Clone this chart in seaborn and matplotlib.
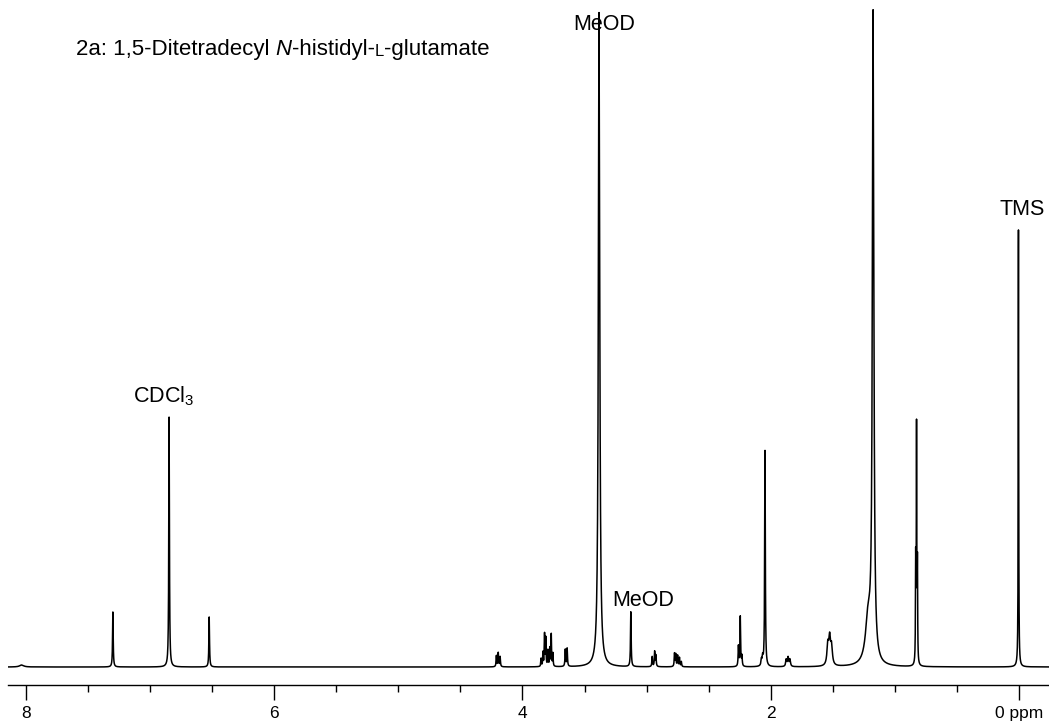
#%% 1H NMR spectrum of 2a
import numpy as np
import pandas as pd
import matplotlib
matplotlib.use("Agg")
import matplotlib.pyplot as plt
import seaborn as sns

# peak list: shift (ppm), height (arb.), half width (ppm)
shifts = [8.035, 7.30, 6.847, 6.524,
          4.21, 4.195, 4.18,
          3.85, 3.835, 3.822, 3.812, 3.795, 3.78, 3.768, 3.755,
          3.655, 3.64,
          3.383, 3.127,
          2.955, 2.935, 2.925,
          2.775, 2.765, 2.75, 2.735, 2.72,
          2.26, 2.245, 2.232,
          2.075, 2.065, 2.046,
          1.875, 1.86, 1.845,
          1.54, 1.525, 1.51,
          1.215, 1.175,
          0.832, 0.825, 0.818,
          0.004]
heights = [2, 55, 251, 50,
           11, 14, 10,
           8, 14, 32, 28, 16, 18, 32, 13,
           17, 18,
           655, 55,
           10, 15, 11,
           13, 12, 11, 9, 5,
           20, 50, 10,
           6, 8, 216,
           7, 9, 7,
           20, 26, 18,
           45, 645,
           100, 235, 95,
           437]
widths = [0.02, 0.003, 0.003, 0.003,
          0.003, 0.003, 0.003,
          0.0025, 0.0025, 0.0025, 0.0025, 0.0025, 0.0025, 0.0025, 0.0025,
          0.003, 0.003,
          0.0066, 0.003,
          0.003, 0.003, 0.003,
          0.003, 0.003, 0.003, 0.003, 0.003,
          0.003, 0.003, 0.003,
          0.004, 0.004, 0.003,
          0.005, 0.005, 0.005,
          0.008, 0.008, 0.008,
          0.025, 0.0071,
          0.002, 0.002, 0.002,
          0.002]

# labels on the spectrum
labels = ["MeOD", "MeOD", "CDCl$_3$", "TMS"]
label_x = [3.587, 3.277, 7.137, 0.160]
label_y = [637, 61, 265, 452]

tick_major = [8, 6, 4, 2, 0]
tick_labels = ["8", "6", "4", "2", "0 ppm"]

# spectrum as sum of lorentzian lines
ppm = np.arange(-0.3, 8.2, 0.0004)
inten = np.zeros_like(ppm)
for p, h, w in zip(shifts, heights, widths):
    inten += h * w**2 / ((ppm - p) ** 2 + w**2)
df = pd.DataFrame({"ppm": ppm, "I": inten})

sns.set_theme(style="ticks")
plt.rcParams["font.family"] = ["Liberation Sans", "DejaVu Sans"]
plt.rcParams["mathtext.fontset"] = "custom"
plt.rcParams["mathtext.rm"] = "Liberation Sans"
plt.rcParams["mathtext.it"] = "Liberation Sans:italic"
plt.rcParams["text.color"] = "black"
plt.rcParams["xtick.color"] = "black"
plt.rcParams["xtick.labelcolor"] = "black"

fig = plt.figure(figsize=(10.49, 7.27), dpi=100)
ax = fig.add_axes([8 / 1049, 42 / 727, 1 - 8 / 1049, 1 - 42 / 727])

sns.lineplot(data=df, x="ppm", y="I", ax=ax, color="black", lw=1.1, sort=False)

ax.set_xlim(8.145, -0.242)
ax.set_ylim(-18, 667)
ax.set_xlabel("")
ax.set_ylabel("")
ax.set_yticks([])
for s in ["left", "top", "right"]:
    ax.spines[s].set_visible(False)
ax.spines["bottom"].set_linewidth(1.0)
ax.spines["bottom"].set_color("black")

ax.set_xticks(tick_major)
ax.set_xticklabels(tick_labels, fontsize=12.5)
ax.set_xticks([x / 2 for x in range(1, 16, 2)] + [7, 5, 3, 1], minor=True)
ax.tick_params(axis="x", which="major", length=11, width=1.0, pad=4, colors="black")
ax.tick_params(axis="x", which="minor", length=5, width=1.0, colors="black")

# title, built from pieces for italic N and small-cap L
fs = 15.5
tfs = 16
t = ax.text(7.597, 612, "2a: 1,5-Ditetradecyl", fontsize=tfs, va="baseline", ha="left")
t = ax.annotate("N", xy=(1, 0), xycoords=t, xytext=(6, 0), textcoords="offset pixels",
                fontsize=tfs, style="italic", va="bottom", ha="left")
t = ax.annotate("-histidyl-", xy=(1, 0), xycoords=t, fontsize=tfs, va="bottom", ha="left")
t = ax.annotate("L", xy=(1, 0), xycoords=t, xytext=(0, 1), textcoords="offset pixels",
                fontsize=tfs * 0.75, va="bottom", ha="left")
t = ax.annotate("-glutamate", xy=(1, 0), xycoords=t, xytext=(0, -1), textcoords="offset pixels",
                fontsize=tfs, va="bottom", ha="left")

for lab, lx, ly in zip(labels, label_x, label_y):
    ax.text(lx, ly, lab, fontsize=fs, ha="left", va="baseline")

fig.savefig("out.png", dpi=100)
